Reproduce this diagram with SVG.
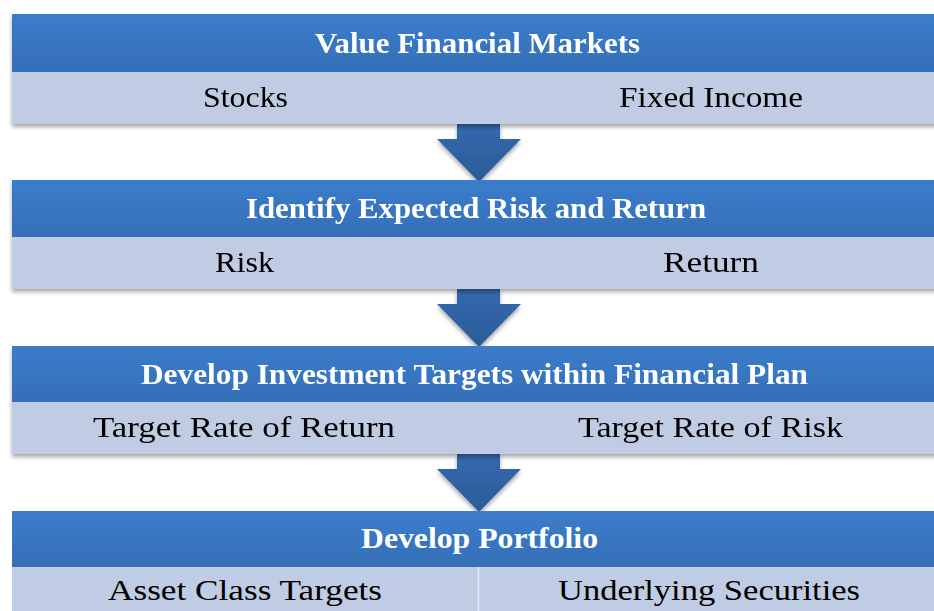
<svg xmlns="http://www.w3.org/2000/svg" width="934" height="611" viewBox="0 0 934 611">
<defs>
<linearGradient id="hdr" x1="0" y1="0" x2="0" y2="1"><stop offset="0" stop-color="#3b7dcb"/><stop offset="1" stop-color="#356fb7"/></linearGradient>
<linearGradient id="arr" x1="0" y1="0" x2="0" y2="1"><stop offset="0" stop-color="#3469ae"/><stop offset="1" stop-color="#2b5b98"/></linearGradient>
<filter id="sh" x="-5%" y="-20%" width="110%" height="150%"><feGaussianBlur in="SourceAlpha" stdDeviation="2"/><feOffset dx="0" dy="3"/><feComponentTransfer><feFuncA type="linear" slope="0.35"/></feComponentTransfer><feMerge><feMergeNode/><feMergeNode in="SourceGraphic"/></feMerge></filter>
</defs>
<style>
.hdr{fill:url(#hdr)}
.sub{fill:#c0cce3}
.ht{font-family:"Liberation Serif","DejaVu Serif",serif;font-weight:bold;font-size:30px;fill:#ffffff;text-anchor:middle}
.st{font-family:"Liberation Serif","DejaVu Serif",serif;font-size:30px;fill:#000000;text-anchor:middle}
.arrow{fill:url(#arr)}
</style>
<rect width="934" height="611" fill="#ffffff"/>
<g id="connectors" filter="url(#sh)">
<path class="arrow" d="M457,124 H500 V139 H521 L479,182 L437,139 H457 Z"/>
<path class="arrow" d="M457,289 H500 V304 H521 L479,347 L437,304 H457 Z"/>
<path class="arrow" d="M457,454 H500 V469 H521 L479,512 L437,469 H457 Z"/>
</g>
<g id="node1" filter="url(#sh)">
<rect class="hdr" x="12" y="14" width="930" height="58"/>
<rect class="sub" x="12" y="72" width="930" height="52"/>
<text class="ht" x="477.5" y="53" textLength="325" lengthAdjust="spacingAndGlyphs">Value Financial Markets</text>
<text class="st" x="245.5" y="107" textLength="85" lengthAdjust="spacingAndGlyphs">Stocks</text>
<text class="st" x="711" y="107" textLength="184" lengthAdjust="spacingAndGlyphs">Fixed  Income</text>
</g>
<g id="node2" filter="url(#sh)">
<rect class="hdr" x="12" y="180" width="930" height="57"/>
<rect class="sub" x="12" y="237" width="930" height="52"/>
<text class="ht" x="476" y="218" textLength="460" lengthAdjust="spacingAndGlyphs">Identify Expected Risk and Return</text>
<text class="st" x="244.5" y="272" textLength="59" lengthAdjust="spacingAndGlyphs">Risk</text>
<text class="st" x="711" y="272" textLength="96" lengthAdjust="spacingAndGlyphs">Return</text>
</g>
<g id="node3" filter="url(#sh)">
<rect class="hdr" x="12" y="346" width="930" height="56"/>
<rect class="sub" x="12" y="402" width="930" height="52"/>
<text class="ht" x="474.5" y="384" textLength="667" lengthAdjust="spacingAndGlyphs">Develop Investment Targets within Financial Plan</text>
<text class="st" x="244" y="437" textLength="302" lengthAdjust="spacingAndGlyphs">Target Rate of Return</text>
<text class="st" x="710.5" y="437" textLength="265" lengthAdjust="spacingAndGlyphs">Target Rate of Risk</text>
</g>
<g id="node4">
<rect class="hdr" x="12" y="511" width="930" height="56"/>
<rect class="sub" x="12" y="567" width="930" height="50"/>
<line x1="478.5" y1="567" x2="478.5" y2="611" stroke="#e4e9f2" stroke-width="1.5"/>
<text class="ht" x="479.5" y="548" textLength="237" lengthAdjust="spacingAndGlyphs">Develop Portfolio</text>
<text class="st" x="245" y="600" textLength="274" lengthAdjust="spacingAndGlyphs">Asset Class Targets</text>
<text class="st" x="709" y="600" textLength="302" lengthAdjust="spacingAndGlyphs">Underlying  Securities</text>
</g>
</svg>
